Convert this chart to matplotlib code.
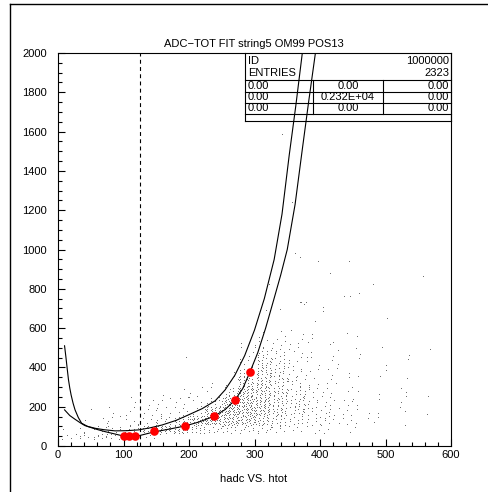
import numpy as np
import matplotlib
matplotlib.use("Agg")
import matplotlib.pyplot as plt
from matplotlib.lines import Line2D

plt.rcParams['font.family'] = ['Liberation Sans', 'DejaVu Sans']

W, H = 489, 492

# ---------------- data ----------------
title = "ADC\u2212TOT FIT string5 OM99 POS13"
xlabel = "hadc VS. htot"
cut_x = 125

red_x = [100, 109, 118, 147, 194, 238, 270, 293]
red_y = [51, 51, 51, 75, 102, 151, 233, 376]

upper_x = [10, 12, 14, 16, 18, 20, 23, 26, 31, 36, 45, 57, 70, 87, 105, 123, 140, 159, 180, 199, 220,
           240, 255, 270, 285, 300, 315, 330, 342, 353, 363, 373]
upper_y = [510, 455, 395, 337, 295, 260, 218, 184, 145, 116, 100, 90, 83, 77, 78, 82, 92, 107, 130, 158, 190,
           230, 285, 360, 460, 590, 750, 949, 1180, 1480, 1730, 2000]

lower_x = [10, 18, 26, 34, 41, 52, 62, 72, 82, 97, 110, 122, 147, 170, 194, 215, 238, 255, 270,
           282, 293, 305, 317, 329, 340, 350, 362, 373, 383, 393]
lower_y = [184, 155, 136, 118, 104, 92, 82, 73, 65, 53, 49, 51, 72, 86, 102, 122, 151, 185, 233,
           292, 376, 475, 600, 740, 870, 1000, 1230, 1510, 1760, 2000]

# scatter density: counts of visible entries per cell
cell_x_edges = list(range(0, 576, 25))
cell_y_edges = [30, 60, 100, 150, 200, 250, 300, 350, 400, 450, 500, 550, 600]
cell_counts = [
    [4, 1, 0, 0, 0, 0, 0, 0, 0, 0, 0, 0],
    [6, 2, 1, 0, 0, 0, 0, 0, 0, 0, 0, 0],
    [8, 4, 2, 1, 0, 0, 0, 0, 0, 0, 0, 0],
    [6, 7, 3, 2, 0, 0, 0, 0, 0, 0, 0, 0],
    [6, 9, 4, 3, 2, 0, 0, 0, 0, 0, 0, 0],
    [3, 20, 5, 4, 3, 1, 0, 0, 0, 0, 0, 0],
    [1, 25, 8, 4, 3, 1, 0, 0, 0, 0, 0, 0],
    [0, 20, 20, 5, 4, 1, 0, 0, 1, 0, 0, 0],
    [0, 12, 32, 8, 4, 2, 0, 0, 0, 0, 0, 0],
    [0, 8, 36, 28, 8, 3, 1, 0, 0, 0, 0, 0],
    [0, 8, 32, 40, 32, 12, 4, 1, 0, 0, 0, 0],
    [0, 8, 28, 35, 35, 30, 20, 12, 6, 3, 1, 0],
    [0, 8, 20, 28, 28, 25, 22, 18, 14, 9, 4, 2],
    [0, 5, 13, 18, 18, 15, 13, 10, 9, 7, 4, 2],
    [0, 4, 9, 11, 11, 10, 8, 6, 5, 4, 3, 2],
    [0, 3, 7, 8, 7, 6, 4, 3, 3, 2, 2, 1],
    [0, 2, 6, 6, 5, 3, 2, 2, 1, 1, 1, 0],
    [0, 1, 4, 4, 3, 2, 2, 2, 1, 1, 0, 0],
    [0, 1, 2, 2, 2, 1, 1, 0, 1, 2, 0, 0],
    [0, 0, 2, 1, 1, 1, 0, 1, 0, 1, 0, 0],
    [0, 0, 0, 1, 1, 1, 0, 1, 1, 0, 0, 0],
    [0, 0, 1, 1, 1, 1, 1, 0, 1, 1, 0, 0],
    [0, 0, 0, 1, 0, 1, 0, 0, 0, 1, 0, 0],
]
outlier_x = [393, 405, 405, 318, 339, 370, 376, 371, 379, 437, 446, 460,
             481, 557, 415, 322, 397, 444, 362, 369, 441, 457, 416, 502, 342, 358]
outlier_y = [630, 680, 700, 685, 690, 728, 720, 730, 730, 757, 757, 774,
             820, 860, 876, 821, 937, 937, 979, 957, 570, 557, 515, 646, 1581, 1238]

stats_rows = [("ID", "1000000"), ("ENTRIES", "2323")]
stats_grid = [["0.00", "0.00", "0.00"],
              ["0.00", "0.232E+04", "0.00"],
              ["0.00", "0.00", "0.00"]]

xticks = [0, 100, 200, 300, 400, 500, 600]
yticks = [0, 200, 400, 600, 800, 1000, 1200, 1400, 1600, 1800, 2000]

# ---------------- figure ----------------
fig = plt.figure(figsize=(W / 100, H / 100), dpi=100)
fx = lambda px: px / W
fy = lambda py: 1 - py / H

ax_l, ax_r, ax_t, ax_b = 58, 451, 53, 446
ax = fig.add_axes([fx(ax_l), fy(ax_b), fx(ax_r) - fx(ax_l), fy(ax_t) - fy(ax_b)])
ax.set_xlim(0, 600)
ax.set_ylim(0, 2000)

# scatter cloud placed on a fixed low-discrepancy lattice within each cell
sx, sy = [], []
g1, g2 = 0.7548776662466927, 0.5698402909980532
for i, row in enumerate(cell_counts):
    x0, x1 = cell_x_edges[i], cell_x_edges[i + 1]
    for j, n in enumerate(row):
        y0, y1 = cell_y_edges[j], cell_y_edges[j + 1]
        off = (i * 7 + j * 13) * 0.618034
        for k in range(n):
            u = (off + 0.5 + (k + 1) * g1) % 1.0
            v = (off * 1.3 + 0.5 + (k + 1) * g2) % 1.0
            sx.append(x0 + u * (x1 - x0))
            sy.append(y0 + v * (y1 - y0))
ax.plot(sx, sy, ',', color='#333333', alpha=0.7)
ax.plot(outlier_x, outlier_y, ',', color='#333333', alpha=0.7)

ax.plot(upper_x, upper_y, color='black', lw=0.8)
ax.plot(lower_x, lower_y, color='black', lw=0.8)
ax.axvline(cut_x, color='black', lw=0.8, ls=(0, (3.5, 3)))
ax.plot(red_x, red_y, 'o', color='#ff0000', ms=6.2, mec='none', zorder=5)

ax.set_xticks(xticks)
ax.set_yticks(yticks)
ax.set_xticks(range(0, 601, 20), minor=True)
ax.set_yticks(range(0, 2001, 50), minor=True)
ax.tick_params(which='major', direction='in', length=5, width=0.8, labelsize=8)
ax.tick_params(which='minor', direction='in', length=3, width=0.8)
ax.tick_params(axis='x', pad=3)
ax.tick_params(axis='y', pad=8)
for s in ax.spines.values():
    s.set_linewidth(0.8)

fig.text(fx(254), fy(44), title, ha='center', va='center', fontsize=8)
fig.text(fx(254), fy(479), xlabel, ha='center', va='center', fontsize=8)

# outer frame lines (top and left)
fig.add_artist(Line2D([fx(10), fx(10)], [fy(4), 0], transform=fig.transFigure, color='black', lw=1))
fig.add_artist(Line2D([fx(10), 1], [fy(4), fy(4)], transform=fig.transFigure, color='black', lw=1))

# statistics box (transparent, curves show through)
bl, br, bt = 245, 451, 53
row_lines = [80, 91.5, 103, 114, 121]
cols = [245, 313, 383, 451]
def hline(py, x0=bl, x1=br):
    fig.add_artist(Line2D([fx(x0), fx(x1)], [fy(py), fy(py)], transform=fig.transFigure,
                          color='black', lw=0.8, zorder=4))
def vline(px, y0, y1):
    fig.add_artist(Line2D([fx(px), fx(px)], [fy(y0), fy(y1)], transform=fig.transFigure,
                          color='black', lw=0.8, zorder=4))
for py in row_lines:
    hline(py)
vline(bl, bt, row_lines[-1])
vline(br, bt, row_lines[-1])
for px in cols[1:3]:
    vline(px, row_lines[0], row_lines[3])
ty = [61, 73.5]
for (lab, val), y in zip(stats_rows, ty):
    fig.text(fx(bl + 3), fy(y), lab, ha='left', va='center', fontsize=8)
    fig.text(fx(br - 2), fy(y), val, ha='right', va='center', fontsize=8)
for r, vals in enumerate(stats_grid):
    yc = (row_lines[r] + row_lines[r + 1]) / 2
    fig.text(fx(bl + 3), fy(yc), vals[0], ha='left', va='center', fontsize=8)
    fig.text(fx((cols[1] + cols[2]) / 2), fy(yc), vals[1], ha='center', va='center', fontsize=8)
    fig.text(fx(br - 2), fy(yc), vals[2], ha='right', va='center', fontsize=8)

fig.savefig("out.png", dpi=100)
